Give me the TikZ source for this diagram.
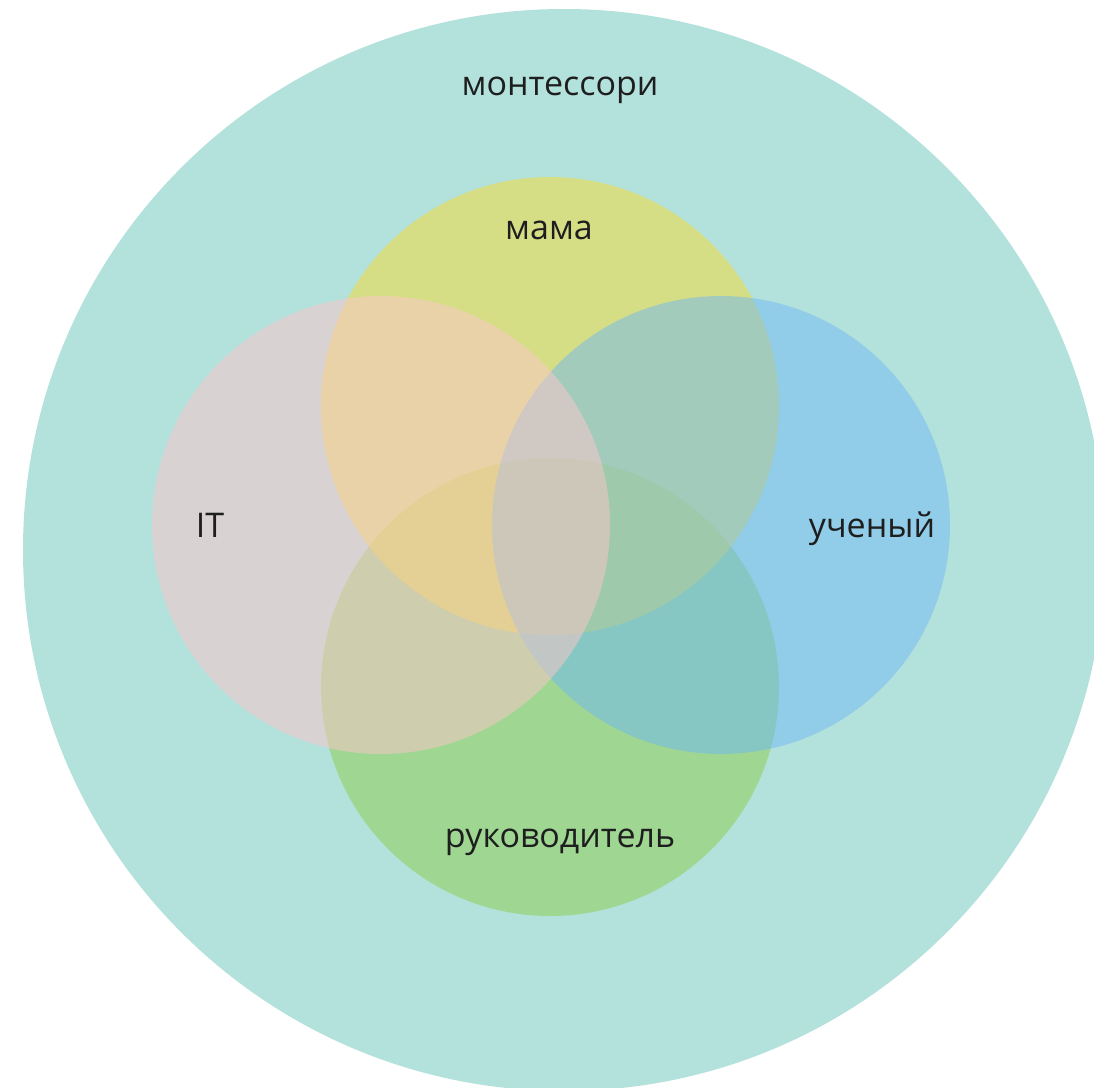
\documentclass[tikz,border=0pt]{standalone}
\usepackage{fontspec}
\setmainfont{Open Sans}
\definecolor{bgteal}{RGB}{179,225,220}
\definecolor{cyel}{RGB}{249,221,48}
\definecolor{cit}{RGB}{253,199,202}
\definecolor{cblue}{RGB}{113,185,244}
\definecolor{cgreen}{RGB}{141,207,74}
\definecolor{txt}{RGB}{30,30,30}
\begin{document}
\begin{tikzpicture}[x=1pt,y=-1pt,
  setc/.style={circle,inner sep=0pt,minimum size=458pt,fill opacity=0.5,draw=none},
  lbl/.style={font=\fontsize{34}{40}\selectfont,text=txt,inner sep=0pt,anchor=base}]
\useasboundingbox (0,0) rectangle (1094,1087);
\fill[white] (0,0) rectangle (1094,1087);
\begin{scope}
\clip (0,0) rectangle (1094,1087);
\node[circle,inner sep=0pt,minimum size=1082pt,fill=bgteal] (outer) at (564,550) {};
\end{scope}
\node[setc,fill=cgreen] (green) at (550,687) {};
\node[setc,fill=cyel] (yellow) at (550,406) {};
\node[setc,fill=cblue] (blue) at (721,525) {};
\node[setc,fill=cit] (it) at (381,525) {};
\node[lbl] (tmont) at (560,95) {монтессори};
\node[lbl] (tmama) at (549,239) {мама};
\node[lbl] (tit) at (210,537) {IT};
\node[lbl] (tuch) at (872,537) {ученый};
\node[lbl] (truk) at (560,847) {руководитель};
\end{tikzpicture}
\end{document}
